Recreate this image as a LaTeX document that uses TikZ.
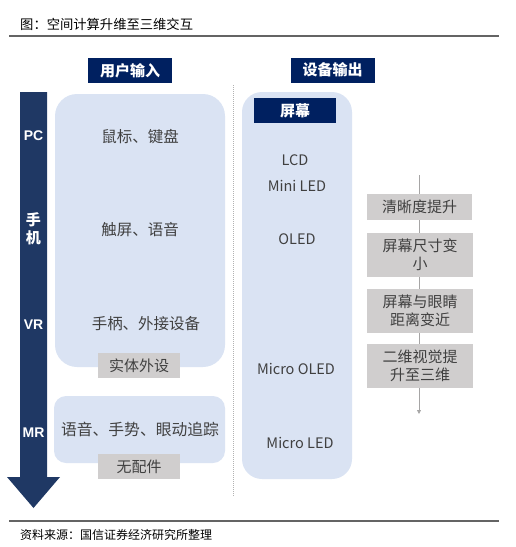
\documentclass[tikz,border=0pt]{standalone}
\usepackage{fontspec}
\setmainfont{Noto Sans CJK SC}
\newfontfamily\latinbold{Liberation Sans}
\usetikzlibrary{arrows.meta, positioning}
\definecolor{mynavy}{RGB}{0,32,96}
\definecolor{myarrow}{RGB}{31,56,100}
\definecolor{myblue}{RGB}{218,227,243}
\definecolor{mygray}{RGB}{208,206,206}
\definecolor{mytext}{RGB}{64,64,64}
\definecolor{myrule}{RGB}{100,100,100}
\tikzset{
  hdrbox/.style={rectangle, fill=mynavy, text=white, inner sep=0pt,
    minimum width=84, minimum height=25,
    font=\fontsize{15}{18}\selectfont\bfseries},
  bluebox/.style={rectangle, fill=myblue, inner sep=0pt},
  graybox/.style={rectangle, fill=mygray, text=mytext, inner sep=0pt,
    align=center, font=\fontsize{15}{17.5}\selectfont},
  bodytext/.style={text=mytext, inner sep=0pt, font=\fontsize{15.5}{18}\selectfont},
  lattext/.style={text=mytext, inner sep=0pt, font=\fontsize{14.5}{17}\selectfont},
  stagetext/.style={text=white, inner sep=0pt, align=center,
    font=\latinbold\fontsize{14}{17}\selectfont\bfseries},
  flowarrow/.style={-{Triangle[length=4pt, width=4pt]}, color=mygray!80!black, line width=0.8pt}
}
\begin{document}
\begin{tikzpicture}[x=1pt, y=-1pt]
  \useasboundingbox (0,0) rectangle (515,547);

  % title and rules
  \node[anchor=west, inner sep=0pt, font=\fontsize{13.3}{16}\selectfont] (title) at (20,24) {图：空间计算升维至三维交互};
  \draw[myrule, line width=1.5pt] (9,36) -- (499,36);
  \draw[myrule, line width=1.5pt] (9,521) -- (499,521);
  \node[anchor=west, inner sep=0pt, font=\fontsize{12}{14}\selectfont] (source) at (20,535) {资料来源：国信证券经济研究所整理};

  % column headers
  \node[hdrbox] (userhdr) at (130,70.5) {用户输入};
  \node[hdrbox] (devhdr) at (332.5,70) {设备输出};
  \draw[gray!60, line width=1pt, dash pattern=on 1pt off 1pt] (233,85) -- (233,497);

  % stage arrow
  \fill[myarrow] (20,92) -- (47,92) -- (47,477) -- (60,477) -- (33.5,508)
    -- (7,477) -- (20,477) -- cycle;
  \node[stagetext] (pc) at (33.5,136) {PC};
  \node[stagetext, font=\fontsize{15}{18}\selectfont\bfseries] (phone) at (33.5,229) {手\\机};
  \node[stagetext] (vr) at (33.5,325) {VR};
  \node[stagetext] (mr) at (33.5,433) {MR};

  % user input
  \node[bluebox, minimum width=170, minimum height=273, rounded corners=22] (inbox) at (140,230.5) {};
  \node[bluebox, minimum width=171, minimum height=67, rounded corners=12] (mrbox) at (139.5,429.5) {};
  \node[bodytext] (pcin) at (140,137) {鼠标、键盘};
  \node[bodytext] (phonein) at (140,230) {触屏、语音};
  \node[bodytext] (vrin) at (146,324) {手柄、外接设备};
  \node[bodytext, font=\fontsize{15.8}{18}\selectfont] (mrin) at (140,429) {语音、手势、眼动追踪};
  \node[graybox, minimum width=82, minimum height=25] (props) at (139,365.5) {实体外设};
  \node[graybox, minimum width=82, minimum height=25] (noprops) at (139,466.5) {无配件};

  % device output
  \node[bluebox, minimum width=110, minimum height=387, rounded corners=20] (outbox) at (297,285.5) {};
  \node[hdrbox, minimum width=82] (scrhdr) at (295,110.5) {屏幕};
  \node[lattext] (lcd) at (295,160) {LCD};
  \node[lattext] (miniled) at (297,186) {Mini LED};
  \node[lattext] (oled) at (297,239) {OLED};
  \node[lattext] (microoled) at (296,369) {Micro OLED};
  \node[lattext] (microled) at (300,443) {Micro LED};

  % trend
  \coordinate (flowtop) at (419,175);
  \coordinate (flowend) at (419,414);
  \draw[flowarrow] (flowtop) -- (flowend);
  \node[graybox, minimum width=105, minimum height=26] (sharp) at (419.5,206.5) {清晰度提升};
  \node[graybox, minimum width=106, minimum height=44] (smaller) at (420,254.5) {屏幕尺寸变\\小};
  \node[graybox, minimum width=106, minimum height=44] (closer) at (420,311) {屏幕与眼睛\\距离变近};
  \node[graybox, minimum width=106, minimum height=44] (threed) at (420,366) {二维视觉提\\升至三维};
\end{tikzpicture}
\end{document}
